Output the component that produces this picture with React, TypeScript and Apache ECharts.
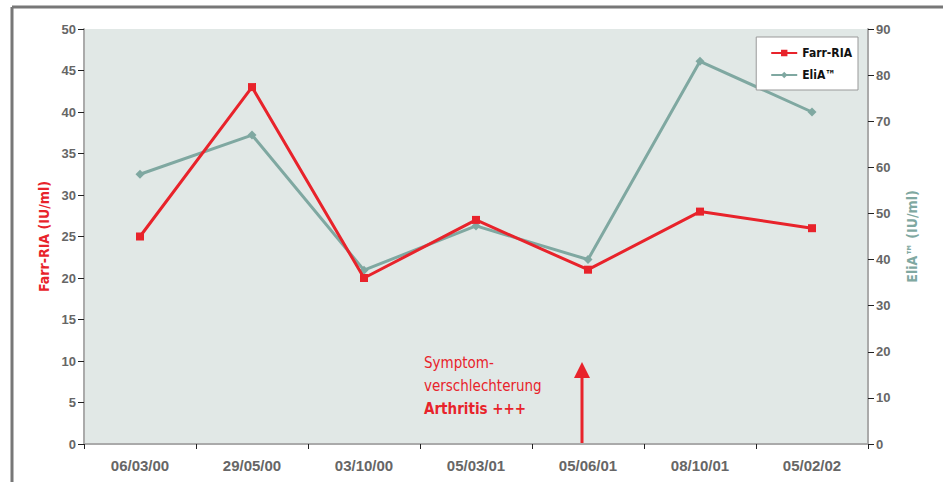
import React, { useEffect, useRef } from "react";
import * as echarts from "echarts";

const categories = ["06/03/00", "29/05/00", "03/10/00", "05/03/01", "05/06/01", "08/10/01", "05/02/02"];
const farrRia = [25, 43, 20, 27, 21, 28, 26];
const eliA = [58.5, 67, 37.7, 47.3, 40, 83, 72];
const annotationLines = ["Symptom-", "verschlechterung", "Arthritis +++"];

const RED = "#e8232b";
const TEAL = "#7fa8a1";
const GREY = "#666666";
const NARROW = '"Liberation Sans Narrow", "DejaVu Sans Condensed", "Roboto Condensed", sans-serif';
const SANS = '"Liberation Sans", Arial, sans-serif';

export default function App() {
  const ref = useRef<HTMLDivElement>(null);
  useEffect(() => {
    if (!ref.current) return;
    const chart = echarts.init(ref.current, undefined, { renderer: "svg" });
    chart.setOption({
      animation: false,
      backgroundColor: "#ffffff",
      grid: {
        left: 84,
        right: 75,
        top: 29,
        bottom: 38,
        show: true,
        backgroundColor: "#e1e8e6",
        borderWidth: 0,
      },
      legend: {
        orient: "vertical",
        right: 85,
        top: 37,
        backgroundColor: "#ffffff",
        borderColor: "#999999",
        borderWidth: 1,
        borderRadius: 0,
        padding: [10, 6, 9, 14],
        itemGap: 10,
        itemWidth: 26,
        itemHeight: 8,
        textStyle: { fontFamily: NARROW, fontWeight: "bold", fontSize: 12, color: "#111" },
        data: ["Farr-RIA", "EliA™"],
      },
      xAxis: {
        type: "category",
        data: categories,
        boundaryGap: true,
        axisLine: { lineStyle: { color: "#aaaaaa", width: 2 } },
        axisTick: { show: true, length: 5, lineStyle: { color: "#222" } },
        axisLabel: { color: GREY, fontWeight: "bold", fontSize: 15, fontFamily: SANS, margin: 14 },
        splitLine: { show: false },
      },
      yAxis: [
        {
          type: "value",
          min: 0,
          max: 50,
          interval: 5,
          name: "Farr-RIA (IU/ml)",
          nameLocation: "middle",
          nameRotate: 90,
          nameGap: 33,
          nameTextStyle: { color: RED, fontFamily: NARROW, fontWeight: "bold", fontSize: 14 },
          axisLine: { show: true, lineStyle: { color: "#aaaaaa", width: 2 } },
          axisTick: { show: true, length: 6, lineStyle: { color: "#222" } },
          axisLabel: { color: GREY, fontWeight: "bold", fontSize: 13, fontFamily: SANS, margin: 8 },
          splitLine: { show: false },
        },
        {
          type: "value",
          min: 0,
          max: 90,
          interval: 10,
          position: "right",
          name: "EliA™ (IU/ml)",
          nameLocation: "middle",
          nameRotate: 90,
          nameGap: 37,
          nameTextStyle: { color: TEAL, fontFamily: NARROW, fontWeight: "bold", fontSize: 14 },
          axisLine: { show: true, lineStyle: { color: "#aaaaaa", width: 2 } },
          axisTick: { show: true, length: 6, lineStyle: { color: "#222" } },
          axisLabel: { color: GREY, fontWeight: "bold", fontSize: 13, fontFamily: SANS, margin: 8 },
          splitLine: { show: false },
        },
      ],
      series: [
        {
          name: "Farr-RIA",
          type: "line",
          data: farrRia,
          yAxisIndex: 0,
          symbol: "rect",
          symbolSize: 8,
          itemStyle: { color: RED },
          lineStyle: { color: RED, width: 3 },
          z: 3,
        },
        {
          name: "EliA™",
          type: "line",
          data: eliA,
          yAxisIndex: 1,
          symbol: "diamond",
          symbolSize: 9,
          itemStyle: { color: TEAL },
          lineStyle: { color: TEAL, width: 3 },
          z: 2,
        },
      ],
      graphic: [
        { type: "line", shape: { x1: 12, y1: 7, x2: 943, y2: 7 }, style: { stroke: "#777", lineWidth: 3 } },
        { type: "line", shape: { x1: 12, y1: 7, x2: 12, y2: 482 }, style: { stroke: "#777", lineWidth: 3 } },
        {
          type: "text",
          left: 424,
          top: 355,
          style: { text: annotationLines[0], fill: RED, font: `15px ${NARROW}` },
        },
        {
          type: "text",
          left: 424,
          top: 378,
          style: { text: annotationLines[1], fill: RED, font: `15px ${NARROW}` },
        },
        {
          type: "text",
          left: 424,
          top: 401,
          style: { text: annotationLines[2], fill: RED, font: `bold 15px ${NARROW}` },
        },
        { type: "line", shape: { x1: 582, y1: 444, x2: 582, y2: 376 }, style: { stroke: RED, lineWidth: 3 } },
        { type: "polygon", shape: { points: [[574, 378], [590, 378], [582, 362]] }, style: { fill: RED } },
      ],
    });
    return () => chart.dispose();
  }, []);
  return <div ref={ref} style={{ position: "fixed", left: 0, top: 0, width: 943, height: 482 }} />;
}
